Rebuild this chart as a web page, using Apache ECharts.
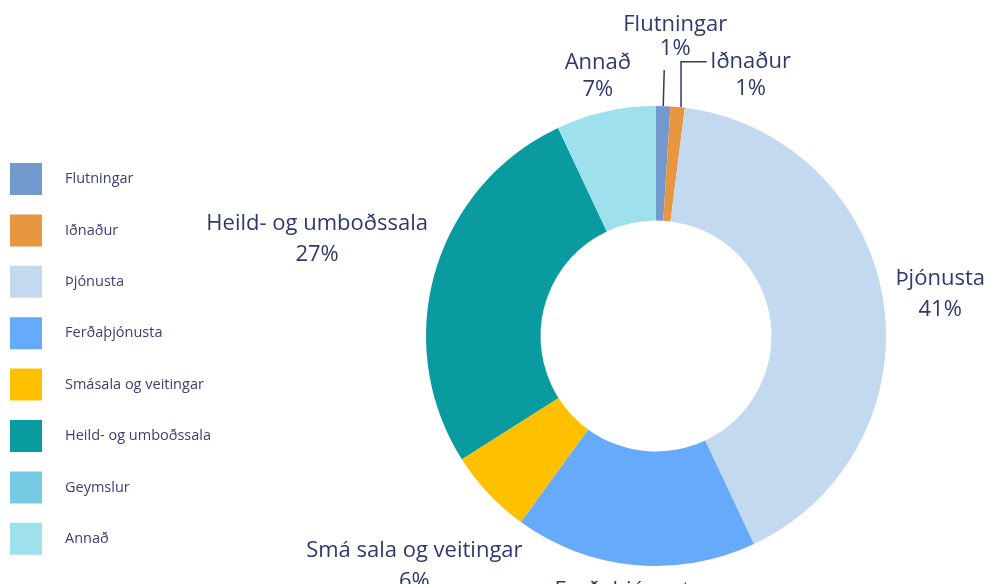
<!DOCTYPE html>
<html>
<head>
<meta charset="utf-8">
<script src="https://cdn.jsdelivr.net/npm/echarts@6/dist/echarts.min.js"></script>
<style>
  html, body { margin: 0; padding: 0; background: #fff; }
  #my_chart { width: 986px; height: 584px; }
</style>
</head>
<body>
<div id="my_chart"></div>
<script>
  // categories and values (percent shares)
  var names = ['Flutningar', 'Iðnaður', 'Þjónusta', 'Ferðaþjónusta', 'Smásala og veitingar', 'Heild- og umboðssala', 'Geymslur', 'Annað'];
  var labelNames = ['Flutningar', 'Iðnaður', 'Þjónusta', 'Ferðaþjónusta', 'Smá sala og veitingar', 'Heild- og umboðssala', 'Geymslur', 'Annað'];
  var values = [1, 1, 41, 17, 6, 27, 0, 7];
  var colors = ['#7399cf', '#e8963f', '#c2d9f0', '#66aafc', '#ffc000', '#0a9ba0', '#76cbe3', '#9ee0ec'];

  // label placement (offset of label centre from outer middle of its slice)
  var labelOffset = [[12, -69.5], [73, -31.5], [57, -6], [-6, 41.5], [-74, 73], [-118, -32.5], [0, 0], [-8, -35.5]];
  var labelLineHeight = [24, 27, 31, 31, 31, 31, 31, 27];
  var withLine = [true, true, false, false, false, false, false, false];

  var cx = 656, cy = 336, outerR = 230, innerR = 115.5;
  var total = values.reduce(function (a, b) { return a + b; }, 0);

  function midPoint(i) {
    var before = 0;
    for (var k = 0; k < i; k++) before += values[k];
    var a = (before + values[i] / 2) / total * Math.PI * 2;
    return [cx + outerR * Math.sin(a), cy - outerR * Math.cos(a)];
  }

  var chart = echarts.init(document.getElementById('my_chart'));

  var seriesData = names.map(function (n, i) {
    return {
      name: n,
      value: values[i],
      itemStyle: { color: colors[i] },
      label: { show: values[i] > 0, lineHeight: labelLineHeight[i] },
      labelLine: { show: withLine[i] }
    };
  });

  chart.setOption({
    animation: false,
    textStyle: { fontFamily: 'Open Sans' },
    legend: {
      orient: 'vertical',
      left: 5,
      top: 158,
      icon: 'rect',
      itemWidth: 32,
      itemHeight: 32,
      itemGap: 19.4,
      textStyle: { fontSize: 14.5, color: '#3c4173', fontFamily: 'Open Sans', padding: [0, 0, 0, 18] },
      data: names
    },
    series: [{
      type: 'pie',
      center: [cx, cy],
      radius: [innerR, outerR],
      startAngle: 90,
      clockwise: true,
      avoidLabelOverlap: false,
      silent: true,
      data: seriesData,
      label: {
        position: 'outside',
        color: '#2e3a6b',
        fontSize: 22,
        fontFamily: 'Open Sans',
        align: 'center',
        formatter: function (p) {
          return labelNames[p.dataIndex] + '\n' + Math.round(p.value / total * 100) + '%';
        }
      },
      labelLine: {
        length: 10,
        length2: 10,
        lineStyle: { color: '#2e3a6b', width: 1.5 }
      },
      labelLayout: function (p) {
        var i = p.dataIndex;
        var pt = midPoint(i);
        var off = labelOffset[i];
        var res = { x: pt[0] + off[0], y: pt[1] + off[1], align: 'center', verticalAlign: 'middle' };
        if (i === 0) {
          res.labelLinePoints = [[pt[0], pt[1]], [pt[0] + 0.5, pt[1] - 18], [pt[0] + 1, pt[1] - 36]];
        } else if (i === 1) {
          res.labelLinePoints = [[pt[0] + 3.4, pt[1]], [pt[0] + 3.4, pt[1] - 45.3], [pt[0] + 29, pt[1] - 45.3]];
        }
        return res;
      }
    }]
  });
</script>
</body>
</html>
